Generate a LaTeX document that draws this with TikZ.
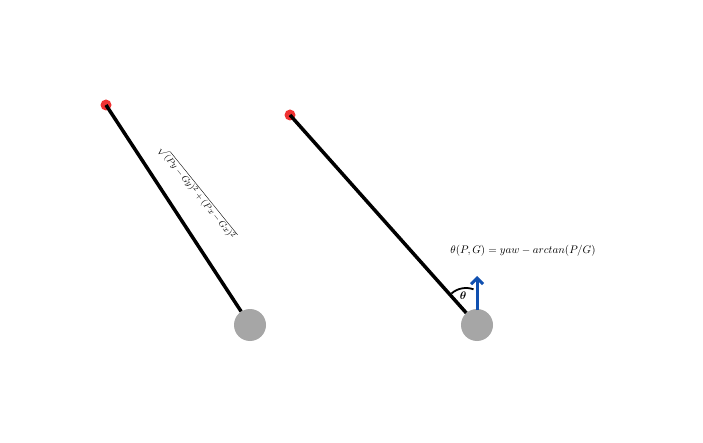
\documentclass[tikz,border=0pt]{standalone}
\usepackage{amsmath,amssymb}
\usetikzlibrary{arrows.meta}
\definecolor{dotred}{HTML}{F03232}
\definecolor{goalgray}{HTML}{A6A6A6}
\definecolor{arrowblue}{HTML}{1050B0}
\begin{document}
\begin{tikzpicture}[x=1pt,y=-1pt,
  rod/.style={line width=3.5pt},
  target/.style={circle,fill=dotred,inner sep=0pt,minimum size=11pt},
  goal/.style={circle,fill=goalgray,inner sep=0pt,minimum size=32pt},
  lbl/.style={inner sep=0pt,font=\fontsize{10.7}{12}\selectfont}]
\fill[white] (0,0) rectangle (703,443);
\useasboundingbox (0,0) rectangle (703,443);
% left
\node[target] (p1) at (106,105) {};
\node[goal] (g1) at (250,325) {};
\draw[rod] (p1.center) -- (g1);
\node[lbl,rotate=-51,font=\fontsize{9.3}{10}\selectfont] (d1) at (197,193)
  {$\sqrt{(Py-Gy)^2+(Px-Gx)^2}$};
% right
\node[target] (p2) at (290,115) {};
\node[goal] (g2) at (477,325) {};
\draw[rod] (p2.center) -- (g2);
\coordinate (tip) at (477,276);
\coordinate (base) at (477,310);
\draw[arrowblue,line width=3pt,-{Straight Barb[length=6pt,width=12pt,line width=3pt]}] (base) -- (tip);
\coordinate (ac) at (466,310);
\draw[line width=1.8pt] ([shift={(-131.7:22)}]ac) arc[start angle=-131.7,end angle=-70,radius=22];
\node[lbl] (th) at (463,296) {$\boldsymbol{\theta}$};
\node[lbl] (eq) at (523,251) {$\theta(P,G) = yaw - arctan(P/G)$};
\end{tikzpicture}
\end{document}
